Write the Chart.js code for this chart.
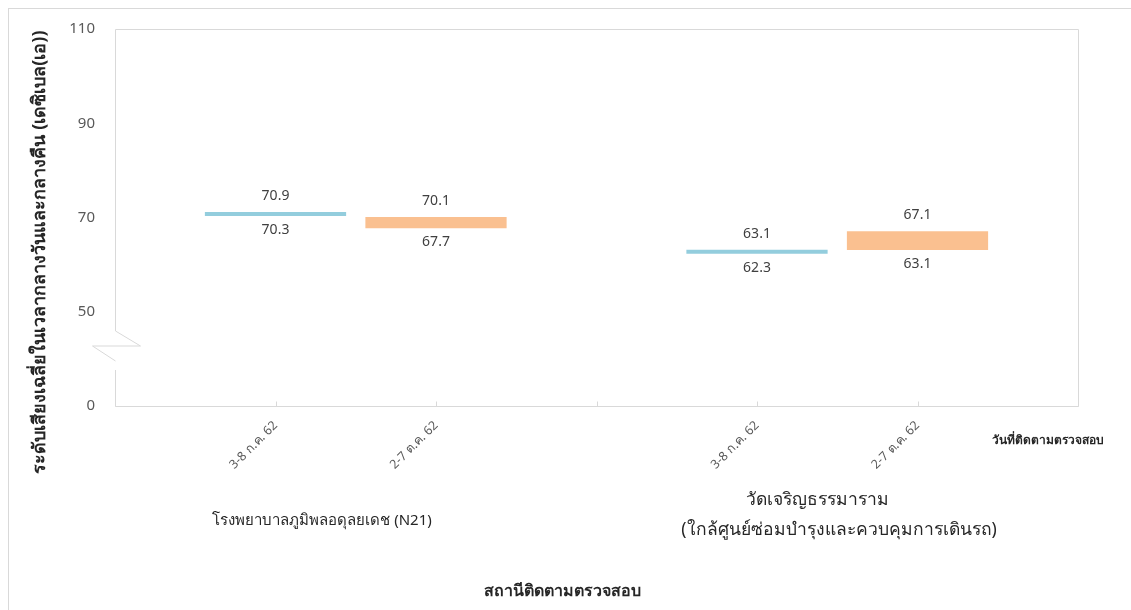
<!DOCTYPE html>
<html>
<head>
<meta charset="utf-8">
<script src="https://cdn.jsdelivr.net/npm/chart.js@4.4.1/dist/chart.umd.min.js"></script>
<style>
    body { margin: 0; background: #fff; }
    #wrap { width: 1131px; height: 610px; position: relative; }
</style>
</head>
<body>
<div id="wrap"><canvas id="chart"></canvas></div>
<script>
// Data
const stations = ['โรงพยาบาลภูมิพลอดุลยเดช (N21)', 'วัดเจริญธรรมาราม'];
const dateLabels = ['', '3-8 ก.ค. 62', '2-7 ต.ค. 62', '', '3-8 ก.ค. 62', '2-7 ต.ค. 62', ''];
const julyMin = [70.3, 62.3];
const julyMax = [70.9, 63.1];
const octMin = [67.7, 63.1];
const octMax = [70.1, 67.1];
const yTicks = [30, 50, 70, 90, 110]; // 30 is shown as 0 (broken axis)

const FONT = "'Noto Sans', 'DejaVu Sans', sans-serif";

// place each station's two periods into the category slots
function toSlots(mins, maxs, offset) {
    const out = dateLabels.map(() => null);
    mins.forEach((v, i) => { out[1 + i * 3 + offset] = [v, maxs[i]]; });
    return out;
}

// Extra drawing: frame, plot border with axis break, value labels, titles
const extrasPlugin = {
    id: 'extras',
    beforeDraw(chart) {
        const ctx = chart.ctx;
        ctx.save();
        ctx.strokeStyle = '#d9d9d9';
        ctx.lineWidth = 1;
        ctx.strokeRect(8.5, 8.5, 1140, 640);
        ctx.restore();
    },
    afterDatasetsDraw(chart) {
        const ctx = chart.ctx;
        ctx.save();
        ctx.font = '14px ' + FONT;
        ctx.fillStyle = '#404040';
        ctx.textAlign = 'center';
        chart.data.datasets.forEach((ds, di) => {
            const meta = chart.getDatasetMeta(di);
            meta.data.forEach((el, i) => {
                const v = ds.data[i];
                if (!v) return;
                const top = Math.min(el.y, el.base);
                const bottom = Math.max(el.y, el.base);
                ctx.textBaseline = 'bottom';
                ctx.fillText(v[1].toFixed(1), el.x, top - 9);
                ctx.textBaseline = 'top';
                ctx.fillText(v[0].toFixed(1), el.x, bottom + 7);
            });
        });
        ctx.restore();
    },
    afterDraw(chart) {
        const ctx = chart.ctx;
        const a = chart.chartArea;
        const xs = chart.scales.x;
        ctx.save();
        ctx.strokeStyle = '#d9d9d9';
        ctx.lineWidth = 1;
        const L = Math.round(a.left) + 0.5, R = Math.round(a.right) + 0.5;
        const T = Math.round(a.top) + 0.5, B = Math.round(a.bottom) + 0.5;
        ctx.beginPath();
        ctx.moveTo(L, 331); ctx.lineTo(L, T); ctx.lineTo(R, T); ctx.lineTo(R, B); ctx.lineTo(L, B); ctx.lineTo(L, 370);
        // axis break
        ctx.moveTo(L, 331); ctx.lineTo(L + 25, 346); ctx.lineTo(L - 23, 346); ctx.lineTo(L, 361);
        // category tick marks
        dateLabels.forEach((_, i) => {
            const x = Math.round(xs.getPixelForValue(i)) + 0.5;
            ctx.moveTo(x, B); ctx.lineTo(x, B - 5);
        });
        ctx.stroke();

        // station labels
        ctx.fillStyle = '#262626';
        ctx.textAlign = 'center';
        ctx.textBaseline = 'middle';
        ctx.font = '15px ' + FONT;
        ctx.fillText(stations[0], 322, 521);
        ctx.font = '17.5px ' + FONT;
        ctx.fillText(stations[1], 817, 500);
        ctx.fillText('(ใกล้ศูนย์ซ่อมบำรุงและควบคุมการเดินรถ)', 839, 530);

        ctx.font = 'bold 12px ' + FONT;
        ctx.fillText('วันที่ติดตามตรวจสอบ', 1048, 441);

        ctx.font = 'bold 16px ' + FONT;
        ctx.fillText('สถานีติดตามตรวจสอบ', 562, 591);

        ctx.translate(40, 252);
        ctx.rotate(-Math.PI / 2);
        ctx.font = 'bold 18px ' + FONT;
        ctx.fillText('ระดับเสียงเฉลี่ยในเวลากลางวันและกลางคืน (เดซิเบล(เอ))', 0, 0);
        ctx.restore();
    }
};

let chart;
try {
    const ctx = document.getElementById('chart');
    chart = new Chart(ctx.getContext('2d'), {
        type: 'bar',
        data: {
            labels: dateLabels,
            datasets: [
                {
                    label: 'ก.ค. 62',
                    data: toSlots(julyMin, julyMax, 0),
                    backgroundColor: '#93cddd',
                    grouped: false,
                    minBarLength: 4
                },
                {
                    label: 'ต.ค. 62',
                    data: toSlots(octMin, octMax, 1),
                    backgroundColor: '#fac090',
                    grouped: false,
                    minBarLength: 4
                }
            ]
        },
        options: {
            responsive: true,
            maintainAspectRatio: false,
            animation: false,
            barPercentage: 0.88,
            categoryPercentage: 1,
            layout: { padding: { top: 25, right: 53, left: 0, bottom: 0 } },
            scales: {
                x: {
                    offset: false,
                    grid: { display: false },
                    border: { display: false },
                    ticks: {
                        autoSkip: false,
                        maxRotation: 45,
                        minRotation: 45,
                        padding: 4,
                        color: '#595959',
                        font: { family: FONT, size: 12.5 }
                    },
                    afterFit: (scale) => { scale.height = 204; }
                },
                y: {
                    min: 30,
                    max: 110,
                    afterBuildTicks: (scale) => { scale.ticks = yTicks.map(v => ({ value: v })); },
                    grid: { display: false, drawTicks: false },
                    border: { display: false },
                    ticks: {
                        padding: 20,
                        color: '#595959',
                        font: { family: FONT, size: 15 },
                        callback: (v) => (v === 30 ? '0' : v)
                    },
                    afterFit: (scale) => { scale.width = 115; }
                }
            },
            plugins: {
                legend: { display: false },
                tooltip: { enabled: false }
            }
        },
        plugins: [extrasPlugin]
    });
} catch (error) {
    console.error('Error initializing chart:', error);
}
</script>
</body>
</html>
